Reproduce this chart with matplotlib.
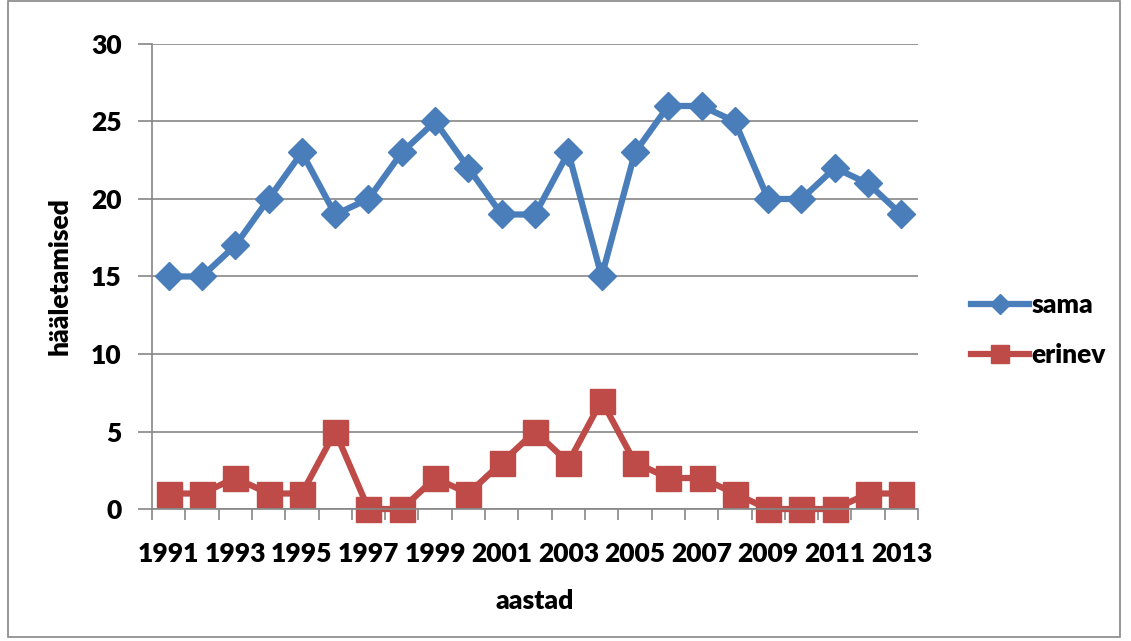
import matplotlib.pyplot as plt
from matplotlib.patches import Rectangle

# andmed
aastad = list(range(1991, 2014))
sama = [15, 15, 17, 20, 23, 19, 20, 23, 25, 22, 19, 19, 23, 15, 23, 26, 26, 25, 20, 20, 22, 21, 19]
erinev = [1, 1, 2, 1, 1, 5, 0, 0, 2, 1, 3, 5, 3, 7, 3, 2, 2, 1, 0, 0, 0, 1, 1]

plt.rcParams['font.family'] = ['Lato', 'DejaVu Sans']
plt.rcParams['font.weight'] = 'heavy'

fig = plt.figure(figsize=(11.31, 6.41), dpi=100)
ax = fig.add_axes([0.1344, 0.2059, 0.6773, 0.7255])

x = list(range(len(aastad)))
ax.plot(x, sama, color='#4A7EBB', lw=4.5, marker='D', ms=14, label='sama', clip_on=False)
ax.plot(x, erinev, color='#BE4B48', lw=4.5, marker='s', ms=18, label='erinev', clip_on=False)

ax.set_xlim(-0.5, len(aastad) - 0.5)
ax.set_ylim(0, 30)
ax.set_yticks(range(0, 31, 5))
ax.set_xticks([i - 0.5 for i in range(len(aastad) + 1)], minor=False)
ax.set_xticklabels([])
ax.set_xticks(x[::2], minor=True)
ax.set_xticklabels([str(a) for a in aastad[::2]], minor=True)
ax.tick_params(axis='x', which='major', length=8, color='#868686', width=1.2)
ax.tick_params(axis='x', which='minor', length=0, pad=24, labelsize=19)
ax.tick_params(axis='y', length=10, color='#868686', width=1.2, labelsize=19, pad=12)
ax.grid(axis='y', color='#868686', lw=1.2)
ax.set_axisbelow(True)
for s in ['top', 'right']:
    ax.spines[s].set_visible(False)
for s in ['left', 'bottom']:
    ax.spines[s].set_color('#868686')
    ax.spines[s].set_linewidth(1.2)

ax.set_xlabel('aastad', fontsize=19, fontweight='heavy', labelpad=16)
ax.set_ylabel('hääletamised', fontsize=19, fontweight='heavy', labelpad=14)

ax.legend(loc='center left', bbox_to_anchor=(1.055, 0.385), frameon=False, fontsize=19,
          handlelength=2.2, handletextpad=0.1, labelspacing=1.0, markerscale=0.75,
          borderaxespad=0)

fig.add_artist(Rectangle((0.007, 0.007), 0.983, 0.991, transform=fig.transFigure,
                         fill=False, edgecolor='#868686', lw=1.2))

fig.savefig('out.png', dpi=100)
